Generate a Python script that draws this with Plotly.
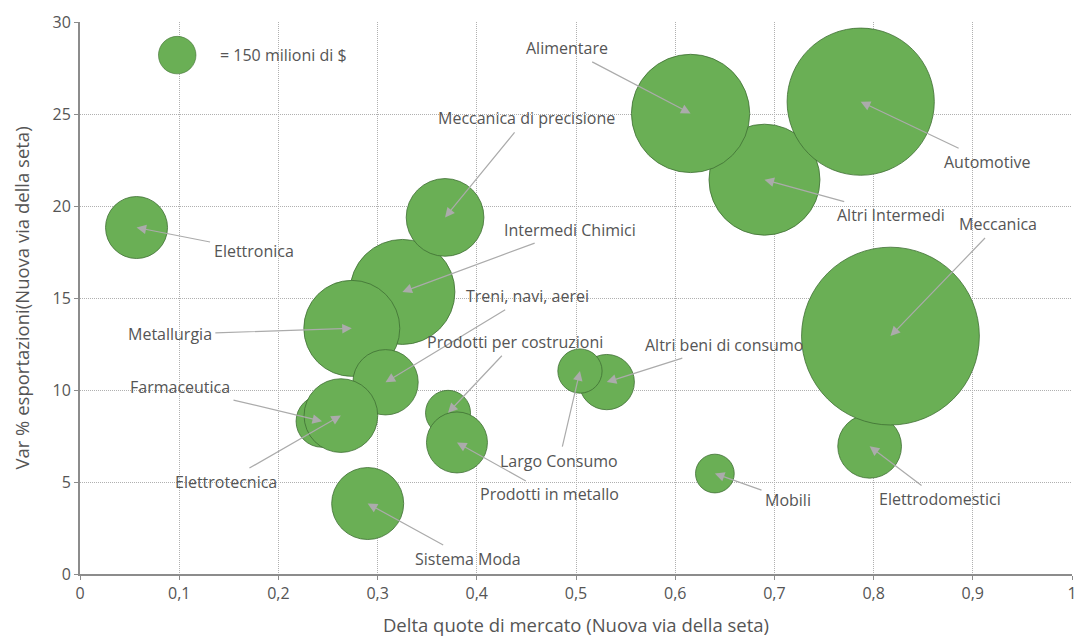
import plotly.graph_objects as go

# Settori: variazione quote di mercato vs variazione % esportazioni
settori = [
    "Altri Intermedi", "Alimentare", "Automotive",
    "Elettronica", "Intermedi Chimici", "Meccanica di precisione", "Metallurgia",
    "Treni, navi, aerei", "Farmaceutica", "Elettrotecnica", "Sistema Moda",
    "Prodotti per costruzioni", "Prodotti in metallo",
    "Altri beni di consumo", "Largo Consumo", "Mobili",
    "Elettrodomestici", "Meccanica",
]
delta_quote = [
    0.690, 0.6155, 0.787,
    0.057, 0.325, 0.368, 0.274,
    0.308, 0.244, 0.263, 0.290,
    0.371, 0.380,
    0.531, 0.504, 0.640,
    0.796, 0.817,
]
var_export = [
    21.43, 25.03, 25.67,
    18.83, 15.33, 19.38, 13.35,
    10.42, 8.30, 8.61, 3.83,
    8.76, 7.15,
    10.43, 11.03, 5.46,
    6.94, 12.93,
]
# Export in milioni di $
export_mln = [
    1314, 1493, 2311,
    410, 1176, 644, 983,
    455, 288, 579, 553,
    216, 397,
    326, 209, 160,
    433, 3372,
]

riferimento_mln = 150
riferimento_testo = "= 150 milioni di $"

x_ticks = [i / 10 for i in range(11)]
y_ticks = [0, 5, 10, 15, 20, 25, 30]

# Label offsets (pixels) from each bubble centre
label_offsets = {
    "Altri Intermedi": (127, 35),
    "Alimentare": (-124, -65),
    "Automotive": (126, 60),
    "Elettronica": (117, 23),
    "Intermedi Chimici": (168, -62),
    "Meccanica di precisione": (81, -99),
    "Metallurgia": (-182, 6),
    "Treni, navi, aerei": (142, -86),
    "Farmaceutica": (-142, -34),
    "Elettrotecnica": (-115, 66),
    "Sistema Moda": (100, 55),
    "Prodotti per costruzioni": (67, -71),
    "Prodotti in metallo": (93, 52),
    "Altri beni di consumo": (117, -37),
    "Largo Consumo": (-21, 90),
    "Mobili": (73, 26),
    "Elettrodomestici": (70, 53),
    "Meccanica": (108, -112),
}

FILL = "#6aaf55"
EDGE = "#3f6f33"
TEXT = "#555555"
ARROW = "#ababab"
FONT = "Open Sans"
# area sizing: a 150 mln bubble is ~37.5 px across
SIZEREF = 2.0 * riferimento_mln / 37.5 ** 2

fig = go.Figure()

fig.add_trace(go.Scatter(
    x=delta_quote, y=var_export, mode="markers", text=settori,
    marker=dict(size=export_mln, sizemode="area", sizeref=SIZEREF,
                color=FILL, opacity=1, line=dict(color=EDGE, width=0.8)),
    hovertemplate="%{text}<extra></extra>",
    showlegend=False,
))

# Bubble-size key
fig.add_trace(go.Scatter(
    x=[0.098], y=[28.2], mode="markers",
    marker=dict(size=[riferimento_mln], sizemode="area", sizeref=SIZEREF,
                color=FILL, opacity=1, line=dict(color=EDGE, width=0.6)),
    hoverinfo="skip", showlegend=False,
))
fig.add_annotation(x=0.139, y=28.2, text=riferimento_testo, showarrow=False,
                   xanchor="left", font=dict(family=FONT, size=16, color=TEXT))

for nome, xv, yv in zip(settori, delta_quote, var_export):
    ax, ay = label_offsets[nome]
    fig.add_annotation(
        x=xv, y=yv, text=nome, showarrow=True, ax=ax, ay=ay,
        arrowhead=2, arrowsize=1.6, arrowwidth=1.2, arrowcolor=ARROW,
        standoff=0, startstandoff=2,
        font=dict(family=FONT, size=16, color=TEXT),
    )

axis_common = dict(
    showgrid=True, gridcolor="#b0b0b0", gridwidth=1, griddash="1px,1px",
    showline=True, linecolor="#8c8c8c", linewidth=2,
    ticks="outside", ticklen=4, tickcolor="#8c8c8c", tickwidth=1,
    tickfont=dict(family=FONT, size=16, color=TEXT),
    zeroline=False, automargin=False,
)

fig.update_layout(
    width=1077, height=637,
    margin=dict(l=80, r=5, t=22, b=63),
    paper_bgcolor="white", plot_bgcolor="white",
    separators=",.",
    font=dict(family=FONT, color=TEXT),
    xaxis=dict(
        range=[0, 1], tickvals=x_ticks,
        title=dict(text="Delta quote di mercato (Nuova via della seta)",
                   font=dict(family=FONT, size=18.5, color=TEXT), standoff=20),
        **axis_common,
    ),
    yaxis=dict(
        range=[0, 30], tickvals=y_ticks,
        title=dict(text="Var % esportazioni(Nuova via della seta)",
                   font=dict(family=FONT, size=18.5, color=TEXT), standoff=18),
        **axis_common,
    ),
)

fig.write_html("out.html")
